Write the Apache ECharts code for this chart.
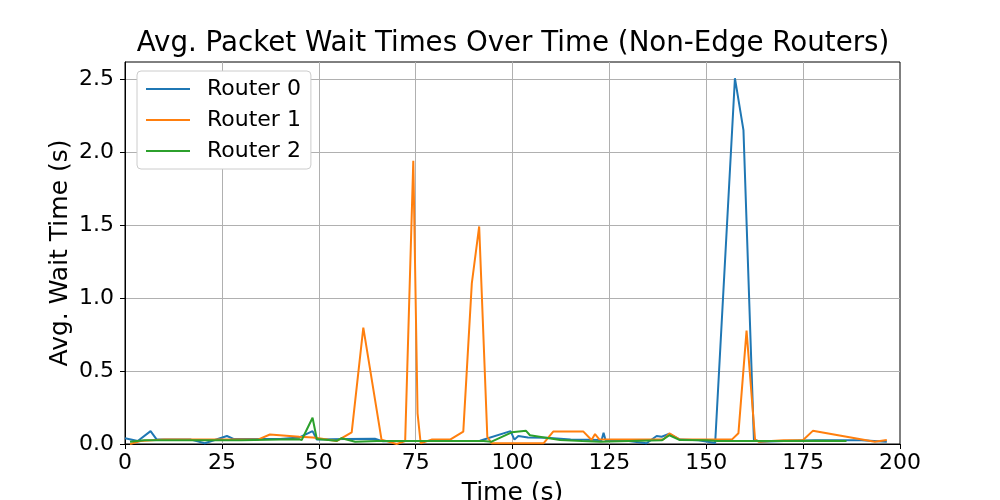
<!DOCTYPE html>
<html>
<head>
<meta charset="utf-8">
<script src="https://cdn.jsdelivr.net/npm/echarts@6/dist/echarts.min.js"></script>
<style>
html,body{margin:0;padding:0;background:#fff;}
#chart{width:1000px;height:500px;}
</style>
</head>
<body>
<div id="chart"></div>
<script>
var titleText = "Avg. Packet Wait Times Over Time (Non-Edge Routers)";
var seriesNames = ["Router 0", "Router 1", "Router 2"];
var xTicks = [0, 25, 50, 75, 100, 125, 150, 175, 200];

var r0x = [0, 3.3, 6.6, 8.2, 12, 17, 20.6, 26.3, 28, 35, 40, 45, 48.4, 49.5, 57, 64.5, 66.6, 72, 80, 86, 91.6, 99.5, 100.5, 101.5, 104, 108.8, 115, 123, 123.5, 124, 130, 134.6, 137.2, 138.5, 140.5, 143.2, 148, 152.3, 157.4, 159.6, 162.3, 164, 170, 178, 185, 190, 196.6];
var r0y = [0.04, 0.02, 0.088, 0.03, 0.03, 0.03, 0.005, 0.055, 0.035, 0.035, 0.035, 0.045, 0.088, 0.03, 0.035, 0.036, 0.018, 0.02, 0.02, 0.02, 0.022, 0.088, 0.03, 0.055, 0.045, 0.043, 0.03, 0.027, 0.077, 0.027, 0.02, 0.005, 0.055, 0.05, 0.07, 0.03, 0.025, 0.007, 2.505, 2.15, 0.03, 0.015, 0.02, 0.025, 0.025, 0.025, 0.015];

var r1x = [1.3, 4, 10, 20, 30, 34.3, 37.4, 45, 48.5, 50, 54.6, 58.5, 61.5, 66.2, 70.1, 72.3, 74.4, 75.5, 76.3, 79.1, 83.9, 87.3, 89.5, 91.4, 93.5, 94.6, 100, 108, 110.5, 118.3, 120.4, 121.3, 122.4, 130, 138.9, 140.5, 143.2, 150, 156.6, 158.3, 160.4, 162.6, 163.5, 170, 175, 177.5, 193.5, 196.6];
var r1y = [0.0, 0.02, 0.03, 0.03, 0.03, 0.03, 0.065, 0.05, 0.045, 0.04, 0.02, 0.08, 0.797, 0.03, 0.0, 0.02, 1.94, 0.21, 0.005, 0.03, 0.03, 0.085, 1.10, 1.49, 0.05, 0.005, 0.005, 0.005, 0.085, 0.085, 0.027, 0.068, 0.032, 0.03, 0.03, 0.073, 0.03, 0.03, 0.03, 0.073, 0.776, 0.03, 0.016, 0.025, 0.027, 0.09, 0.015, 0.027];

var r2x = [1.3, 5, 10, 20, 30, 40, 45, 45.6, 48.4, 49.5, 54.6, 55.9, 59.4, 65, 75, 85, 92.5, 94.6, 99.8, 103.5, 104.5, 112.3, 118, 122.6, 130, 138.5, 140.5, 143.2, 150, 153, 160, 170, 180, 186.2];
var r2y = [0.015, 0.025, 0.025, 0.025, 0.025, 0.03, 0.032, 0.027, 0.18, 0.034, 0.022, 0.04, 0.016, 0.02, 0.02, 0.02, 0.02, 0.016, 0.08, 0.09, 0.06, 0.027, 0.02, 0.016, 0.02, 0.025, 0.06, 0.027, 0.025, 0.02, 0.02, 0.02, 0.022, 0.02];

var colors = ["#1f77b4", "#ff7f0e", "#2ca02c"];

function pairs(xs, ys) {
  var out = [];
  for (var i = 0; i < xs.length; i++) out.push([xs[i], ys[i]]);
  return out;
}
var allX = [r0x, r1x, r2x];
var allY = [r0y, r1y, r2y];

var font = "DejaVu Sans";
var chart = echarts.init(document.getElementById('chart'));
var series = seriesNames.map(function (n, i) {
  return {
    name: n,
    type: 'line',
    data: pairs(allX[i], allY[i]),
    symbol: 'none',
    lineStyle: { color: colors[i], width: 2 },
    itemStyle: { color: colors[i] },
    animation: false
  };
});

chart.setOption({
  animation: false,
  color: colors,
  title: {
    text: titleText,
    left: 508,
    textAlign: 'center',
    top: 25,
    textStyle: { fontFamily: font, fontSize: 27.7, fontWeight: 'normal', color: '#000' }
  },
  legend: {
    data: seriesNames,
    orient: 'vertical',
    left: 137,
    top: 71,
    padding: [7, 10, 7, 9],
    itemGap: 9,
    itemWidth: 44,
    itemHeight: 2,
    icon: 'rect',
    backgroundColor: '#fff',
    borderColor: '#cccccc',
    borderWidth: 1,
    borderRadius: 4,
    textStyle: { fontFamily: font, fontSize: 22, color: '#000', padding: [0, 0, 0, 12] }
  },
  grid: {
    left: 125, right: 100, top: 62, bottom: 56,
    outerBoundsMode: 'none',
    containLabel: false,
    show: true, borderColor: '#000', borderWidth: 1, backgroundColor: 'transparent'
  },
  xAxis: {
    type: 'value',
    min: xTicks[0],
    max: xTicks[xTicks.length - 1],
    interval: 25,
    name: 'Time (s)',
    nameLocation: 'middle',
    nameGap: 37,
    nameMoveOverlap: false,
    nameTextStyle: { fontFamily: font, fontSize: 25, color: '#000' },
    axisLine: { show: true, lineStyle: { color: '#000', width: 1 } },
    axisTick: { show: true, inside: false, length: 5, lineStyle: { color: '#000' } },
    axisLabel: { fontFamily: font, fontSize: 22, color: '#000', margin: 8 },
    splitLine: { show: true, showMinLine: false, showMaxLine: false, lineStyle: { color: '#b0b0b0', width: 1 } }
  },
  yAxis: {
    type: 'value',
    min: 0,
    max: 2.616,
    interval: 0.5,
    name: 'Avg. Wait Time (s)',
    nameLocation: 'middle',
    nameGap: 52,
    nameMoveOverlap: false,
    nameTextStyle: { fontFamily: font, fontSize: 25, color: '#000' },
    axisLine: { show: true, lineStyle: { color: '#000', width: 1 } },
    axisTick: { show: true, inside: false, length: 5, lineStyle: { color: '#000' } },
    axisLabel: {
      fontFamily: font, fontSize: 22, color: '#000', margin: 11, showMaxLabel: false,
      formatter: function (v) { return v.toFixed(1); }
    },
    splitLine: { show: true, showMinLine: false, showMaxLine: false, lineStyle: { color: '#b0b0b0', width: 1 } }
  },
  series: series
});
</script>
</body>
</html>
